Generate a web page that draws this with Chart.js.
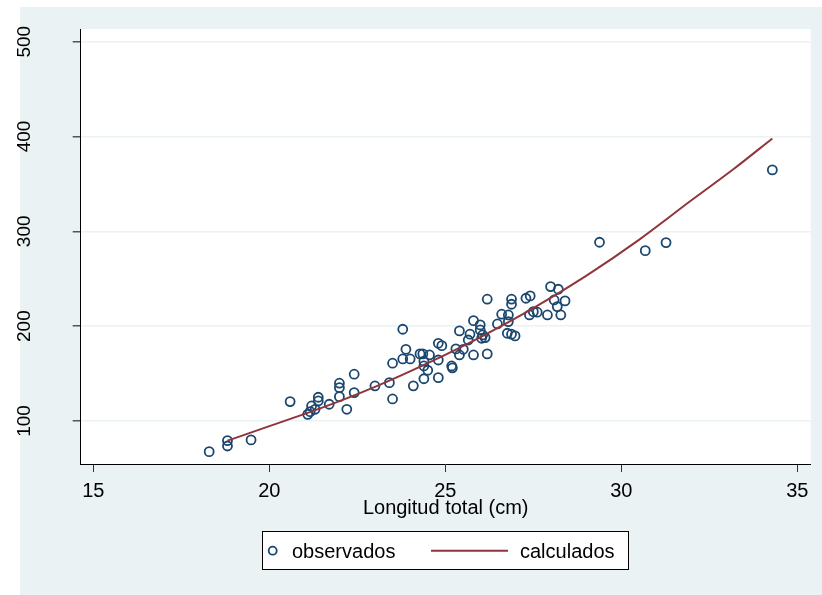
<!DOCTYPE html>
<html>
<head>
<meta charset="utf-8">
<script src="https://cdn.jsdelivr.net/npm/chart.js@4.4.1/dist/chart.umd.min.js"></script>
<style>
  html, body { margin: 0; padding: 0; background: #ffffff; }
  #chart { display: block; }
</style>
</head>
<body>
<canvas id="chart" width="822" height="595"></canvas>
<script>
// observed weight vs total length
const obsX = [18.29, 18.81, 18.81, 19.48, 20.59, 21.09, 21.16, 21.2, 21.3, 21.39, 21.39, 21.7,
  21.99, 21.99, 21.99, 22.2, 22.41, 22.41, 23.0, 23.41, 23.5, 23.5, 23.79, 23.79, 23.88, 24.0,
  24.09, 24.28, 24.36, 24.55, 24.39, 24.39, 24.5, 24.39, 24.8, 24.9, 24.8, 24.8, 25.18, 25.2,
  25.3, 25.4, 25.4, 25.51, 25.65, 25.7, 25.8, 25.8, 25.99, 25.99, 26.03, 26.13, 26.06, 26.19,
  26.19, 26.48, 26.6, 26.79, 26.79, 26.76, 26.88, 26.98, 26.88, 26.88, 27.29, 27.41, 27.39,
  27.5, 27.61, 27.9, 27.99, 28.21, 28.09, 28.4, 28.18, 28.28, 29.38, 30.68, 31.27, 34.29];
const obsY = [67.6, 79.2, 73.6, 80, 120.4, 107, 109.8, 115.8, 112.3, 125, 121.1, 117.6,
  139.8, 135.1, 125.6, 112.3, 149.3, 129.9, 136.9, 140.4, 160.9, 123.2, 196.7, 165.4, 175.6, 165.4,
  137, 170.7, 170.7, 169.6, 163, 158, 153.5, 144.5, 181.9, 179.4, 164.3, 145.7, 158, 156,
  176, 195, 169.6, 175.6, 185.4, 191.5, 205.8, 169.6, 201.3, 196, 187.2, 187.9, 190.7, 228.4,
  170.7, 202.3, 212.6, 211.8, 204.8, 192.5, 191.5, 189.7, 228.4, 223.1, 229.4, 231.9, 211.8,
  215.3, 214.7, 211.8, 241.7, 238.9, 227.6, 226.6, 220.6, 211.8, 288.5, 279.6, 288.1, 364.8];

// fitted curve
const fitX = [18.81, 20.0, 21.5, 23.0, 24.5, 26.0, 27.5, 29.0, 30.5, 32.0, 33.2, 34.29];
const fitY = [79.2, 94.5, 114, 136, 161, 188.5, 219, 253, 291, 333, 366, 398];

const xTicks = [15, 20, 25, 30, 35];
const yTicks = [100, 200, 300, 400, 500];

const bgColor = "#eaf2f3";
const navy = "#1a476f";
const maroon = "#90353b";
const fontFam = "'Liberation Sans', Arial, sans-serif";

const stataLook = {
    id: "stataLook",
    beforeDraw(chart) {
        const { ctx, chartArea: a, width, height } = chart;
        ctx.save();
        ctx.fillStyle = "#ffffff";
        ctx.fillRect(0, 0, width, height);
        ctx.fillStyle = bgColor;
        ctx.fillRect(20, 7, width - 20, height - 7);
        ctx.fillStyle = "#ffffff";
        ctx.fillRect(a.left, a.top, a.right - a.left, a.bottom - a.top);
        ctx.restore();
    },
    afterDraw(chart) {
        const { ctx, scales } = chart;
        ctx.save();
        ctx.fillStyle = "#000000";

        // y tick labels, rotated
        ctx.font = "19px " + fontFam;
        ctx.textAlign = "center";
        ctx.textBaseline = "alphabetic";
        yTicks.forEach(v => {
            const y = scales.y.getPixelForValue(v);
            ctx.save();
            ctx.translate(30, y);
            ctx.rotate(-Math.PI / 2);
            ctx.fillText(String(v), 0, 0);
            ctx.restore();
        });

        // x tick labels
        ctx.font = "20px " + fontFam;
        xTicks.forEach(v => {
            ctx.fillText(String(v), scales.x.getPixelForValue(v), 497);
        });

        // axis title
        const a = chart.chartArea;
        ctx.fillText("Longitud total (cm)", (a.left + a.right) / 2, 514);

        // legend
        ctx.fillStyle = "#ffffff";
        ctx.fillRect(262.5, 531.5, 366, 38);
        ctx.strokeStyle = "#000000";
        ctx.lineWidth = 1;
        ctx.strokeRect(262.5, 531.5, 366, 38);

        ctx.beginPath();
        ctx.arc(272.7, 550.7, 4, 0, Math.PI * 2);
        ctx.strokeStyle = navy;
        ctx.lineWidth = 1.8;
        ctx.stroke();

        ctx.beginPath();
        ctx.moveTo(431, 550.7);
        ctx.lineTo(508, 550.7);
        ctx.strokeStyle = maroon;
        ctx.lineWidth = 2;
        ctx.stroke();

        ctx.fillStyle = "#000000";
        ctx.textAlign = "left";
        ctx.font = "20px " + fontFam;
        ctx.fillText("observados", 292, 558);
        ctx.fillText("calculados", 520, 558);
        ctx.restore();
    }
};

new Chart(document.getElementById("chart"), {
    type: "scatter",
    data: {
        datasets: [
            {
                label: "calculados",
                data: fitX.map((x, i) => ({ x: x, y: fitY[i] })),
                showLine: true,
                borderColor: maroon,
                borderWidth: 2,
                pointRadius: 0,
                cubicInterpolationMode: "monotone",
                order: 0
            },
            {
                label: "observados",
                data: obsX.map((x, i) => ({ x: x, y: obsY[i] })),
                pointStyle: "circle",
                pointRadius: 4.5,
                pointBorderWidth: 1.8,
                pointBorderColor: navy,
                pointBackgroundColor: "rgba(0,0,0,0)",
                order: 1
            }
        ]
    },
    options: {
        responsive: false,
        animation: false,
        devicePixelRatio: 1,
        layout: { padding: { left: 0, top: 29, right: 11.3, bottom: 0 } },
        plugins: {
            legend: { display: false },
            tooltip: { enabled: false }
        },
        scales: {
            x: {
                type: "linear",
                min: 14.64,
                max: 35.38,
                afterBuildTicks: s => { s.ticks = xTicks.map(v => ({ value: v })); },
                afterFit: s => { s.height = 131; },
                ticks: { display: false },
                border: { color: "#000000", width: 1 },
                grid: { drawOnChartArea: false, tickLength: 8, tickColor: "#333333" }
            },
            y: {
                type: "linear",
                min: 54.6,
                max: 513.4,
                afterBuildTicks: s => { s.ticks = yTicks.map(v => ({ value: v })); },
                afterFit: s => { s.width = 80.7; },
                ticks: { display: false },
                border: { color: "#000000", width: 1 },
                grid: { color: bgColor, lineWidth: 1.5, tickLength: 8, tickColor: "#555555" }
            }
        }
    },
    plugins: [stataLook]
});
</script>
</body>
</html>
